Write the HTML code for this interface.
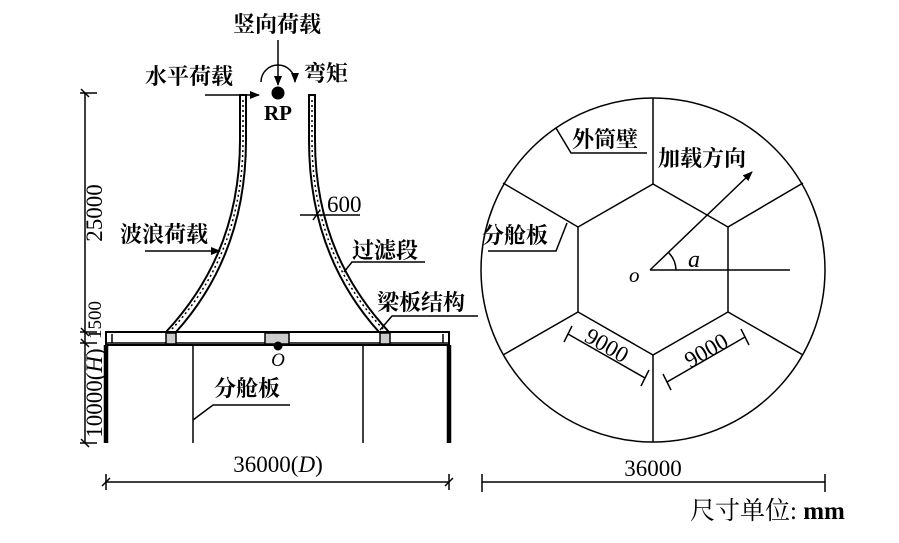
<!DOCTYPE html>
<html><head><meta charset="utf-8"><style>
body{margin:0;background:#fff;width:899px;height:538px;overflow:hidden}
text{font-family:"Liberation Serif","Noto Serif CJK SC",serif;fill:#000}
.c{font-family:"Liberation Serif","Noto Serif CJK SC",serif;font-size:22px;font-weight:bold}
.n{font-size:23px}
</style></head><body>
<svg width="899" height="538" viewBox="0 0 899 538" xmlns="http://www.w3.org/2000/svg">
<defs>
<marker id="ah" markerWidth="10" markerHeight="8" refX="9" refY="4" orient="auto" markerUnits="userSpaceOnUse"><path d="M0,0 L10,4 L0,8 Z" fill="#000"/></marker>
</defs>
<g stroke="#000" fill="none" stroke-width="1.5">
<line x1="85" y1="93" x2="85" y2="443"/>
<line x1="80" y1="93" x2="97" y2="93"/><line x1="81" y1="89" x2="89" y2="97"/>
<line x1="80" y1="332" x2="97" y2="332"/><line x1="81" y1="328" x2="89" y2="336"/>
<line x1="80" y1="343" x2="97" y2="343"/><line x1="81" y1="339" x2="89" y2="347"/>
<line x1="80" y1="443" x2="97" y2="443"/><line x1="81" y1="439" x2="89" y2="447"/>
<path d="M240,95 L240,140 C240,230 205,290 166,332 L176,332 C212,292 246,232 246,140 L246,95 Z" stroke-width="2"/>
<path d="M315,95 L315,140 C315,230 350,290 389,332 L379,332 C343,292 309,232 309,140 L309,95 Z" stroke-width="2"/>
<path d="M243,100 L243,140 C243,231 208,291 171,330" stroke-dasharray="2,3" stroke-width="1.5"/>
<path d="M312,100 L312,140 C312,231 347,291 384,330" stroke-dasharray="2,3" stroke-width="1.5"/>
<rect x="106" y="332" width="343" height="13" stroke-width="2"/>
<line x1="112" y1="334" x2="112" y2="343"/><line x1="443" y1="334" x2="443" y2="343"/>
<line x1="106" y1="343" x2="449" y2="343"/>
<rect x="166" y="333" width="10" height="11" fill="#ccc"/>
<rect x="265" y="333" width="24" height="11" fill="#ccc"/>
<rect x="380" y="333" width="10" height="11" fill="#ccc"/>
<line x1="106" y1="345" x2="106" y2="443" stroke-width="4.5"/>
<line x1="449" y1="345" x2="449" y2="443" stroke-width="4.5"/>
<line x1="193" y1="345" x2="193" y2="443"/>
<line x1="363" y1="345" x2="363" y2="443"/>
<line x1="106" y1="482" x2="449" y2="482"/>
<line x1="106" y1="474" x2="106" y2="490"/><line x1="102" y1="486" x2="110" y2="478"/>
<line x1="449" y1="474" x2="449" y2="490"/><line x1="445" y1="486" x2="453" y2="478"/>
<line x1="278" y1="40" x2="278" y2="85" marker-end="url(#ah)"/>
<path d="M261,82 A17,17 0 0 1 295,82" marker-end="url(#ah)"/>
<line x1="205" y1="95" x2="259" y2="95" marker-end="url(#ah)"/>
<line x1="145" y1="251" x2="220" y2="251" marker-end="url(#ah)"/>
<line x1="300" y1="215" x2="360" y2="215"/>
<line x1="313" y1="220" x2="320" y2="210"/>
<polyline points="425,262 352,262 344,272"/>
<polyline points="478,316 392,316 380,330" />
<polyline points="290,405 213,405 193,420"/>
<circle cx="653" cy="270" r="172"/>
<polygon points="653,184 728,227 728,312 653,355 578,312 578,227"/>
<line x1="653" y1="184" x2="653" y2="98"/>
<line x1="728" y1="227" x2="803" y2="183"/>
<line x1="728" y1="312" x2="803" y2="355"/>
<line x1="653" y1="355" x2="653" y2="442"/>
<line x1="578" y1="312" x2="503" y2="355"/>
<line x1="578" y1="227" x2="503" y2="183"/>
<line x1="650" y1="270" x2="790" y2="270"/>
<line x1="650" y1="270" x2="752" y2="172" marker-end="url(#ah)"/>
<path d="M676,270 A26,26 0 0 0 668,252"/>
<polyline points="556,128 571,153 647,153"/>
<polyline points="488,251 556,251 567,223"/>
<line x1="568" y1="334" x2="645" y2="378"/>
<line x1="564" y1="342" x2="572" y2="326"/><line x1="641" y1="386" x2="649" y2="370"/>
<line x1="667" y1="382" x2="745" y2="337"/>
<line x1="663" y1="374" x2="671" y2="390"/><line x1="741" y1="329" x2="749" y2="345"/>
<line x1="482" y1="482" x2="825" y2="482"/>
<line x1="482" y1="474" x2="482" y2="492"/><line x1="825" y1="474" x2="825" y2="492"/>
</g>
<circle cx="278" cy="93" r="6.5" fill="#000"/>
<circle cx="278" cy="346" r="4.5" fill="#000"/>
<text class="c" x="277" y="32" text-anchor="middle">竖向荷载</text>
<text class="c" x="145" y="84">水平荷载</text>
<text class="c" x="304" y="81">弯矩</text>
<text x="278" y="120" text-anchor="middle" font-size="21" font-weight="bold">RP</text>
<text class="n" x="327" y="212">600</text>
<text class="c" x="120" y="242">波浪荷载</text>
<text class="c" x="352" y="258">过滤段</text>
<text class="c" x="377" y="310">梁板结构</text>
<text class="c" x="214" y="396">分舱板</text>
<text x="278" y="366" font-size="19" font-style="italic" text-anchor="middle">O</text>
<text class="n" x="278" y="472" text-anchor="middle">36000(<tspan font-style="italic">D</tspan>)</text>
<text class="n" transform="translate(102,213) rotate(-90)" text-anchor="middle">25000</text>
<text font-size="19" transform="translate(101,320) rotate(-90)" text-anchor="middle">1500</text>
<text class="n" transform="translate(102,393) rotate(-90)" text-anchor="middle">10000(<tspan font-style="italic">H</tspan>)</text>
<text class="c" x="572" y="147">外筒壁</text>
<text class="c" x="658" y="166">加载方向</text>
<text class="c" x="482" y="243">分舱板</text>
<text x="688" y="267" font-size="24" font-style="italic">a</text>
<text x="629" y="282" font-size="21" font-style="italic">o</text>
<text class="n" transform="translate(603,352) rotate(30)" text-anchor="middle">9000</text>
<text class="n" transform="translate(710,357) rotate(-30)" text-anchor="middle">9000</text>
<text class="n" x="653" y="476" text-anchor="middle">36000</text>
<text x="690" y="519" font-size="25">尺寸单位: <tspan font-weight="bold">mm</tspan></text>
</svg>
</body></html>
